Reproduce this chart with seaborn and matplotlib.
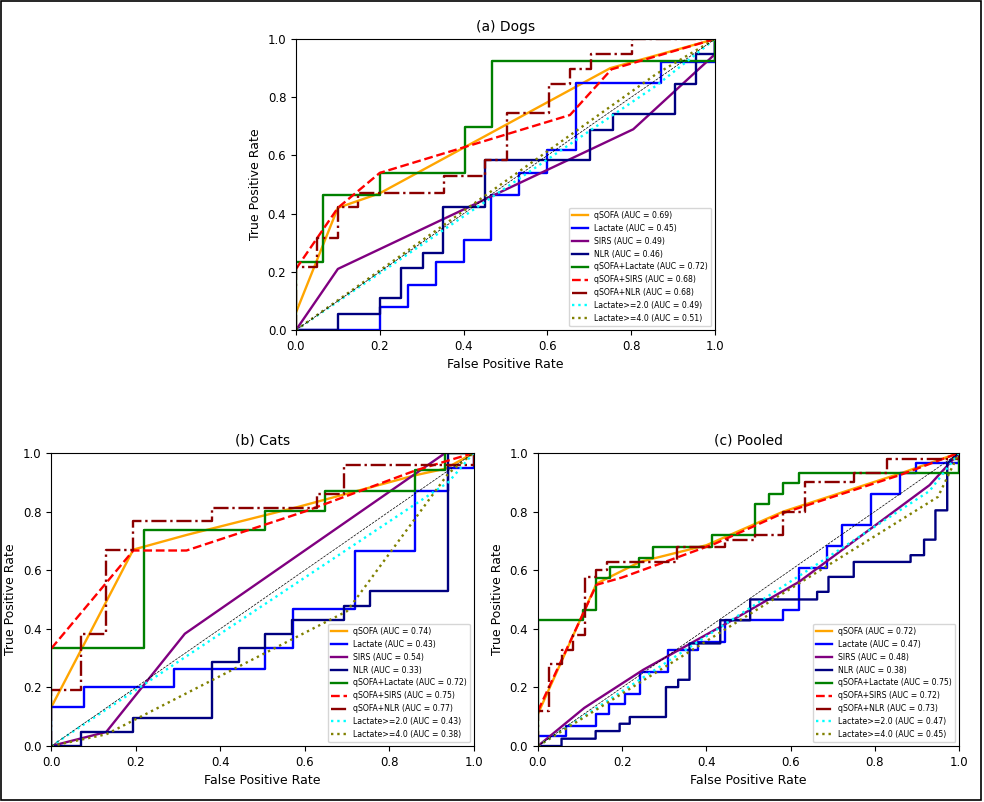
import seaborn as sns
import matplotlib.pyplot as plt
import pandas as pd
from matplotlib.patches import Rectangle

# ROC points, as (fpr, tpr) pairs
dogs_qsofa = [(0, 0.06), (0.1, 0.42), (0.2, 0.47), (0.75, 0.9), (1, 1)]
dogs_lactate = [(0, 0), (0.2, 0), (0.2, 0.08), (0.267, 0.08), (0.267, 0.155), (0.335, 0.155),
                (0.335, 0.235), (0.4, 0.235), (0.4, 0.31), (0.466, 0.31), (0.466, 0.464),
                (0.533, 0.464), (0.533, 0.538), (0.6, 0.538), (0.6, 0.618), (0.668, 0.618),
                (0.668, 0.85), (0.871, 0.85), (0.871, 0.922), (1, 0.922), (1, 1)]
dogs_sirs = [(0, 0), (0.1, 0.21), (0.805, 0.69), (1, 0.948), (1, 1)]
dogs_nlr = [(0, 0), (0.1, 0), (0.1, 0.054), (0.2, 0.054), (0.2, 0.109), (0.25, 0.109),
            (0.25, 0.212), (0.303, 0.212), (0.303, 0.266), (0.352, 0.266), (0.352, 0.424),
            (0.45, 0.424), (0.45, 0.584), (0.702, 0.584), (0.702, 0.687), (0.756, 0.687),
            (0.756, 0.741), (0.904, 0.741), (0.904, 0.845), (0.955, 0.845), (0.955, 0.948),
            (1, 0.948), (1, 1)]
dogs_qsofa_lactate = [(0, 0), (0, 0.235), (0.065, 0.235), (0.065, 0.464), (0.2, 0.464),
                      (0.2, 0.538), (0.403, 0.538), (0.403, 0.698), (0.469, 0.698),
                      (0.469, 0.925), (1, 0.925), (1, 1)]
dogs_qsofa_sirs = [(0, 0.21), (0.1, 0.42), (0.2, 0.54), (0.654, 0.739), (0.753, 0.896), (1, 1)]
dogs_qsofa_nlr = [(0, 0), (0, 0.215), (0.05, 0.215), (0.05, 0.315), (0.1, 0.315), (0.1, 0.424),
                  (0.148, 0.424), (0.148, 0.47), (0.353, 0.47), (0.353, 0.53), (0.451, 0.53),
                  (0.451, 0.584), (0.503, 0.584), (0.503, 0.745), (0.605, 0.745),
                  (0.605, 0.845), (0.654, 0.845), (0.654, 0.896), (0.705, 0.896),
                  (0.705, 0.948), (0.803, 0.948), (0.803, 1), (1, 1)]
dogs_lact2 = [(0, 0), (0.86, 0.84), (1, 1)]
dogs_lact4 = [(0, 0), (0.86, 0.88), (1, 1)]
dogs_auc = [0.69, 0.45, 0.49, 0.46, 0.72, 0.68, 0.68, 0.49, 0.51]

cats_qsofa = [(0, 0.133), (0.194, 0.67), (0.32, 0.72), (0.585, 0.816), (0.862, 0.924),
              (0.933, 0.946), (1, 1)]
cats_lactate = [(0, 0), (0, 0.133), (0.077, 0.133), (0.077, 0.2), (0.29, 0.2), (0.29, 0.264),
                (0.506, 0.264), (0.506, 0.336), (0.573, 0.336), (0.573, 0.469), (0.72, 0.469),
                (0.72, 0.667), (0.862, 0.667), (0.862, 0.87), (0.94, 0.87), (0.94, 0.95),
                (1, 0.95), (1, 1)]
cats_sirs = [(0, 0), (0.13, 0.048), (0.316, 0.383), (0.933, 1.0), (1, 1)]
cats_nlr = [(0, 0), (0.07, 0), (0.07, 0.048), (0.194, 0.048), (0.194, 0.096), (0.38, 0.096),
            (0.38, 0.287), (0.444, 0.287), (0.444, 0.336), (0.506, 0.336), (0.506, 0.383),
            (0.569, 0.383), (0.569, 0.431), (0.692, 0.431), (0.692, 0.478), (0.755, 0.478),
            (0.755, 0.53), (0.94, 0.53), (0.94, 1.0), (1, 1)]
cats_qsofa_lactate = [(0, 0), (0, 0.333), (0.22, 0.333), (0.22, 0.736), (0.506, 0.736),
                      (0.506, 0.802), (0.648, 0.802), (0.648, 0.87), (0.862, 0.87),
                      (0.862, 0.94), (0.933, 0.94), (0.933, 1), (1, 1)]
cats_qsofa_sirs = [(0, 0.333), (0.194, 0.667), (0.32, 0.667), (0.6, 0.8), (0.862, 0.94), (1, 1)]
cats_qsofa_nlr = [(0, 0), (0, 0.19), (0.07, 0.19), (0.07, 0.383), (0.13, 0.383), (0.13, 0.668),
                  (0.194, 0.668), (0.194, 0.767), (0.38, 0.767), (0.38, 0.813),
                  (0.628, 0.813), (0.628, 0.861), (0.692, 0.861), (0.692, 0.958),
                  (1, 0.958), (1, 1)]
cats_lact2 = [(0, 0), (0.94, 0.9), (1, 1)]
cats_lact4 = [(0, 0), (0.13, 0.04), (0.7, 0.46), (0.94, 0.93), (1, 1)]
cats_auc = [0.74, 0.43, 0.54, 0.33, 0.72, 0.75, 0.77, 0.43, 0.38]

pooled_qsofa = [(0, 0.11), (0.139, 0.554), (0.242, 0.628), (0.4, 0.685), (0.583, 0.8),
                (0.861, 0.93), (1, 1)]
pooled_lactate = [(0, 0), (0, 0.034), (0.067, 0.034), (0.067, 0.07), (0.137, 0.07),
                  (0.137, 0.11), (0.169, 0.11), (0.169, 0.144), (0.206, 0.144), (0.206, 0.179),
                  (0.242, 0.179), (0.242, 0.253), (0.31, 0.253), (0.31, 0.327), (0.381, 0.327),
                  (0.381, 0.355), (0.444, 0.355), (0.444, 0.429), (0.583, 0.429),
                  (0.583, 0.463), (0.619, 0.463), (0.619, 0.609), (0.687, 0.609),
                  (0.687, 0.681), (0.722, 0.681), (0.722, 0.753), (0.79, 0.753),
                  (0.79, 0.861), (0.861, 0.861), (0.861, 0.93), (0.897, 0.93),
                  (0.897, 0.964), (1, 0.964), (1, 1)]
pooled_sirs = [(0, 0), (0.11, 0.13), (0.25, 0.26), (0.45, 0.42), (0.62, 0.56), (0.93, 0.89),
               (1, 1)]
pooled_nlr = [(0, 0), (0.056, 0), (0.056, 0.025), (0.137, 0.025), (0.137, 0.051),
              (0.194, 0.051), (0.194, 0.076), (0.218, 0.076), (0.218, 0.099), (0.304, 0.099),
              (0.304, 0.201), (0.333, 0.201), (0.333, 0.226), (0.36, 0.226), (0.36, 0.35),
              (0.433, 0.35), (0.433, 0.429), (0.504, 0.429), (0.504, 0.5), (0.663, 0.5),
              (0.663, 0.526), (0.69, 0.526), (0.69, 0.577), (0.75, 0.577), (0.75, 0.628),
              (0.885, 0.628), (0.885, 0.651), (0.917, 0.651), (0.917, 0.704), (0.944, 0.704),
              (0.944, 0.804), (0.972, 0.804), (0.972, 0.964), (1, 1)]
pooled_qsofa_lactate = [(0, 0), (0, 0.43), (0.107, 0.43), (0.107, 0.465), (0.137, 0.465),
                        (0.137, 0.573), (0.17, 0.573), (0.17, 0.61), (0.24, 0.61),
                        (0.24, 0.643), (0.274, 0.643), (0.274, 0.679), (0.414, 0.679),
                        (0.414, 0.719), (0.516, 0.719), (0.516, 0.827), (0.548, 0.827),
                        (0.548, 0.861), (0.583, 0.861), (0.583, 0.898), (0.619, 0.898),
                        (0.619, 0.932), (1, 0.932), (1, 1)]
pooled_qsofa_sirs = [(0, 0.12), (0.139, 0.55), (0.2, 0.575), (0.42, 0.69), (0.583, 0.795),
                     (0.861, 0.925), (1, 1)]
pooled_qsofa_nlr = [(0, 0), (0, 0.12), (0.026, 0.12), (0.026, 0.281), (0.056, 0.281),
                    (0.056, 0.327), (0.083, 0.327), (0.083, 0.378), (0.111, 0.378),
                    (0.111, 0.577), (0.137, 0.577), (0.137, 0.6), (0.164, 0.6),
                    (0.164, 0.628), (0.33, 0.628), (0.33, 0.679), (0.444, 0.679),
                    (0.444, 0.704), (0.516, 0.704), (0.516, 0.72), (0.583, 0.72),
                    (0.583, 0.8), (0.635, 0.8), (0.635, 0.9), (0.75, 0.9), (0.75, 0.932),
                    (0.829, 0.932), (0.829, 0.98), (1, 0.98), (1, 1)]
pooled_lact2 = [(0, 0), (0.93, 0.87), (1, 1)]
pooled_lact4 = [(0, 0), (0.95, 0.85), (1, 1)]
pooled_auc = [0.72, 0.47, 0.48, 0.38, 0.75, 0.72, 0.73, 0.47, 0.45]

models = ["qSOFA", "Lactate", "SIRS", "NLR", "qSOFA+Lactate", "qSOFA+SIRS", "qSOFA+NLR",
          "Lactate>=2.0", "Lactate>=4.0"]
colors = ["orange", "blue", "purple", "navy", "green", "red", "darkred", "cyan", "olive"]
styles = ["-", "-", "-", "-", "-", "--", "-.", ":", ":"]

panels = [
    ("(a) Dogs", [dogs_qsofa, dogs_lactate, dogs_sirs, dogs_nlr, dogs_qsofa_lactate,
                  dogs_qsofa_sirs, dogs_qsofa_nlr, dogs_lact2, dogs_lact4], dogs_auc,
     [0.3008, 0.5885, 0.4258, 0.3628]),
    ("(b) Cats", [cats_qsofa, cats_lactate, cats_sirs, cats_nlr, cats_qsofa_lactate,
                  cats_qsofa_sirs, cats_qsofa_nlr, cats_lact2, cats_lact4], cats_auc,
     [0.0522, 0.0698, 0.4292, 0.3655]),
    ("(c) Pooled", [pooled_qsofa, pooled_lactate, pooled_sirs, pooled_nlr,
                    pooled_qsofa_lactate, pooled_qsofa_sirs, pooled_qsofa_nlr,
                    pooled_lact2, pooled_lact4], pooled_auc,
     [0.5467, 0.0698, 0.4279, 0.3655]),
]

fig = plt.figure(figsize=(9.84, 8.02), dpi=100)

for title, curves, aucs, pos in panels:
    ax = fig.add_axes(pos)
    for name, pts, auc, c, ls in zip(models, curves, aucs, colors, styles):
        df = pd.DataFrame(pts, columns=["fpr", "tpr"])
        sns.lineplot(data=df, x="fpr", y="tpr", sort=False, estimator=None, ax=ax,
                     color=c, linewidth=1.7, label=f"{name} (AUC = {auc:.2f})")
        ax.lines[-1].set_linestyle(ls)
    # chance line
    ax.plot([0, 1], [0, 1], linestyle="--", color="black", linewidth=0.5)
    ax.set_xlim(0, 1)
    ax.set_ylim(0, 1)
    ax.set_xticks([0, 0.2, 0.4, 0.6, 0.8, 1.0])
    ax.set_yticks([0, 0.2, 0.4, 0.6, 0.8, 1.0])
    ax.tick_params(labelsize=8.5)
    ax.set_xlabel("False Positive Rate", fontsize=9)
    ax.set_ylabel("True Positive Rate", fontsize=9)
    ax.set_title(title, fontsize=10)
    ax.legend(loc="lower right", fontsize=5.6)

# thin frame around the whole figure
fig.patches.append(Rectangle((0.001, 0.0025), 0.996, 0.996, transform=fig.transFigure,
                             fill=False, edgecolor="black", linewidth=1.2))

fig.savefig("out.png", dpi=100)
